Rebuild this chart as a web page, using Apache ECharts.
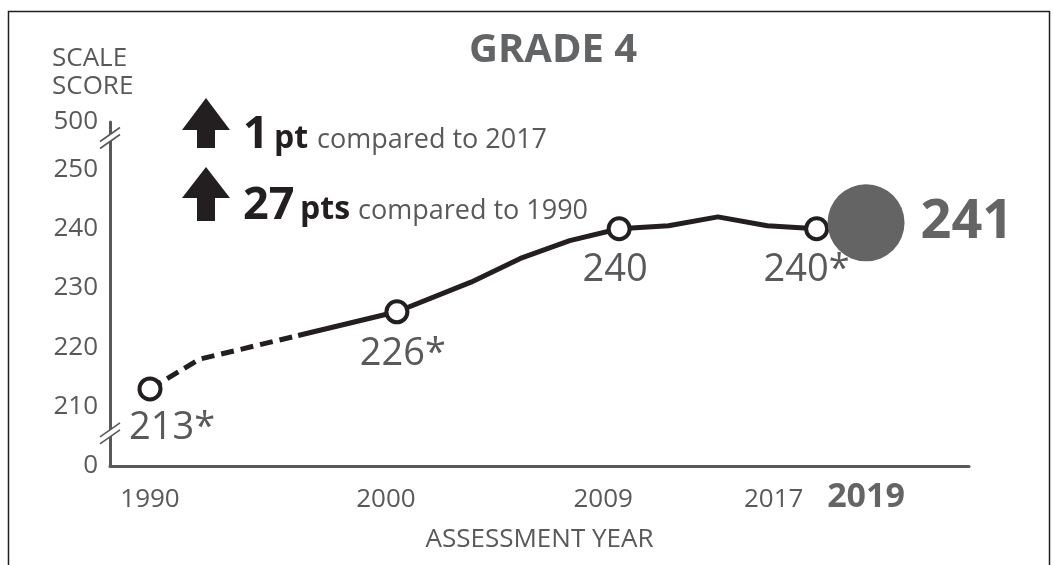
<!DOCTYPE html>
<html><head><meta charset="utf-8">
<script src="https://cdn.jsdelivr.net/npm/echarts@6/dist/echarts.min.js"></script>
<style>html,body{margin:0;padding:0;background:#fff}#c{width:1053px;height:565px}</style>
</head><body><div id="c"></div>
<script>
// ---- data ----
const years  = [1990, 1992, 1996, 2000, 2003, 2005, 2007, 2009, 2011, 2013, 2015, 2017, 2019];
const scores = [213, 218, 222, 226, 231, 235, 238, 240, 240.5, 242, 240.5, 240, 241];
const dashedUntil = 1996;            // accommodations not permitted before this
const markedYears  = [1990, 2000, 2009, 2017];
const markedLabels = ['213*', '226*', '240', '240*'];
const currentYear  = 2019;
const currentLabel = '241';
const xTickYears   = [1990, 2000, 2009, 2017, 2019];
const yTickValues  = [200, 210, 220, 230, 240, 250, 258];
const yTickLabels  = ['0', '210', '220', '230', '240', '250', '500'];
const breakValues  = [255.3, 205.5];
const chartTitle   = 'GRADE 4';
const yTitle       = 'SCALE\nSCORE';
const xTitle       = 'ASSESSMENT YEAR';
const changeBig    = ['1', '27'];
const changeUnit   = ['pt', 'pts'];
const changeText   = ['compared to 2017', 'compared to 1990'];

// ---- styles ----
const FONT = 'Open Sans';
const INK = '#231f20';
const TXT = '#58595b';
const GRAY = '#646464';
const labelOffsets = [[22, 0], [6, 0], [-4, 0], [-10, 0]];
const labelDistances = [8, 11, 10, 10];
const tickShift = [0, 11, 16, 43, 0];   // left shift of tick text (px), by tick index

function makeItem(i) {
  const y = years[i], v = scores[i];
  const mi = markedYears.indexOf(y);
  if (y === currentYear) {
    return { value: [y, v], symbol: 'circle', symbolSize: 77,
      itemStyle: { color: GRAY, borderWidth: 0 },
      label: { show: true, position: 'right', distance: 16, formatter: currentLabel,
        fontFamily: FONT, fontSize: 54, fontWeight: 'bold', color: GRAY, lineHeight: 54 } };
  }
  if (mi >= 0) {
    return { value: [y, v], symbol: 'circle', symbolSize: 21,
      itemStyle: { color: '#fff', borderColor: INK, borderWidth: 4 },
      label: { show: true, position: 'bottom', distance: labelDistances[mi], offset: labelOffsets[mi],
        formatter: markedLabels[mi], fontFamily: FONT, fontSize: 38, color: TXT, lineHeight: 38 } };
  }
  return { value: [y, v], symbol: 'none' };
}
const dashedData = [], solidData = [];
years.forEach((y, i) => {
  if (y <= dashedUntil) dashedData.push(makeItem(i));
  if (y >= dashedUntil) solidData.push(makeItem(i));
});

const pastTicks = xTickYears.filter(y => y !== currentYear);
const tickRich = {};
xTickYears.forEach((y, i) => {
  tickRich['t' + i] = y === currentYear
    ? { fontFamily: FONT, fontSize: 34, fontWeight: 'bold', color: GRAY, lineHeight: 20 }
    : { fontFamily: FONT, fontSize: 26, color: TXT, lineHeight: 26, padding: [0, 2 * tickShift[i], 0, 0] };
});
const tickFormatter = v => '{t' + xTickYears.indexOf(v) + '|' + v + '}';

const xMin = 1988.38, xMax = 2023.17;
const baseX = {
  type: 'value', min: xMin, max: xMax, gridIndex: 0, position: 'bottom',
  axisTick: { show: false }, splitLine: { show: false }
};
const option = {
  animation: false,
  backgroundColor: '#fff',
  title: { text: chartTitle, left: 469, top: 31, padding: 0,
    textStyle: { fontFamily: FONT, fontSize: 40, fontWeight: 'bold', color: '#636466', lineHeight: 40 } },
  grid: { left: 110, right: 84, top: 122, bottom: 99, containLabel: false, outerBoundsMode: 'none' },
  xAxis: [
    Object.assign({}, baseX, {
      axisLine: { show: true, lineStyle: { color: TXT, width: 3 } },
      axisLabel: { customValues: pastTicks, margin: 21, hideOverlap: false,
        showMinLabel: true, showMaxLabel: true, formatter: tickFormatter, rich: tickRich },
      name: xTitle, nameLocation: 'middle', nameGap: 61,
      nameTextStyle: { fontFamily: FONT, fontSize: 26, color: TXT, lineHeight: 26 }
    }),
    Object.assign({}, baseX, {
      axisLine: { show: false },
      axisLabel: { customValues: [currentYear], margin: 21, hideOverlap: false,
        showMinLabel: true, showMaxLabel: true, formatter: tickFormatter, rich: tickRich }
    })
  ],
  yAxis: {
    type: 'value', min: 200, max: 258,
    axisLine: { show: true, lineStyle: { color: TXT, width: 3 } },
    axisTick: { show: false }, splitLine: { show: false },
    axisLabel: { customValues: yTickValues, margin: 12, hideOverlap: false,
      showMinLabel: true, showMaxLabel: true,
      formatter: v => yTickLabels[yTickValues.indexOf(v)],
      fontFamily: FONT, fontSize: 26, color: TXT }
  },
  series: [
    { type: 'line', data: dashedData, symbol: 'circle', showSymbol: true, z: 3,
      lineStyle: { color: INK, width: 5, type: [13, 7], cap: 'butt' },
      label: { show: false }, emphasis: { disabled: true }, clip: false },
    { type: 'line', data: solidData, symbol: 'circle', showSymbol: true, z: 4,
      lineStyle: { color: INK, width: 5, type: 'solid' },
      label: { show: false }, emphasis: { disabled: true }, clip: false }
  ]
};

const chart = echarts.init(document.getElementById('c'), null, { renderer: 'canvas' });
chart.setOption(option);

// ---- decorations ----
const gfx = [];
gfx.push({ type: 'rect', shape: { x: 8.5, y: 11.5, width: 1041, height: 600 },
  style: { fill: 'none', stroke: INK, lineWidth: 1.5 }, z: 10 });
gfx.push({ type: 'text', x: 52, y: 45, style: { text: yTitle, fontFamily: FONT, fontSize: 26,
  lineHeight: 28, fill: TXT, verticalAlign: 'top' } });
// axis break marks
breakValues.forEach(v => {
  const p = chart.convertToPixel({ gridIndex: 0 }, [xMin, v]);
  const x = p[0], y = p[1];
  gfx.push({ type: 'polygon', shape: { points: [[x - 10, y + 3.5], [x + 10, y - 10.5], [x + 10, y - 3.5], [x - 10, y + 10.5]] },
    style: { fill: '#fff' }, z: 20 });
  gfx.push({ type: 'line', shape: { x1: x - 10, y1: y + 3.5, x2: x + 10, y2: y - 10.5 }, style: { stroke: TXT, lineWidth: 1.6 }, z: 21 });
  gfx.push({ type: 'line', shape: { x1: x - 10, y1: y + 10.5, x2: x + 10, y2: y - 3.5 }, style: { stroke: TXT, lineWidth: 1.6 }, z: 21 });
});
// change annotations with up arrows
const rows = [
  { head: 98, base: 130, bottom: 148, baseline: 148, xs: [243, 274, 317] },
  { head: 167, base: 198, bottom: 221, baseline: 219, xs: [243, 300, 358] }
];
rows.forEach((r, i) => {
  gfx.push({ type: 'polygon', shape: { points: [[182, r.base], [206, r.head], [230, r.base]] }, style: { fill: INK } });
  gfx.push({ type: 'rect', shape: { x: 197, y: r.base - 1, width: 18, height: r.bottom - r.base + 1 }, style: { fill: INK } });
  gfx.push({ type: 'text', x: r.xs[0], y: r.baseline - 0.285 * 45, style: { text: changeBig[i], fontFamily: FONT, fontSize: 45, fontWeight: 'bold', fill: INK, verticalAlign: 'middle' } });
  gfx.push({ type: 'text', x: r.xs[1], y: r.baseline - 0.285 * 32, style: { text: changeUnit[i], fontFamily: FONT, fontSize: 32, fontWeight: 'bold', fill: INK, verticalAlign: 'middle' } });
  gfx.push({ type: 'text', x: r.xs[2], y: r.baseline - 0.285 * 27, style: { text: changeText[i], fontFamily: FONT, fontSize: 27, fill: TXT, verticalAlign: 'middle' } });
});
chart.setOption({ graphic: gfx });
</script>
</body></html>
